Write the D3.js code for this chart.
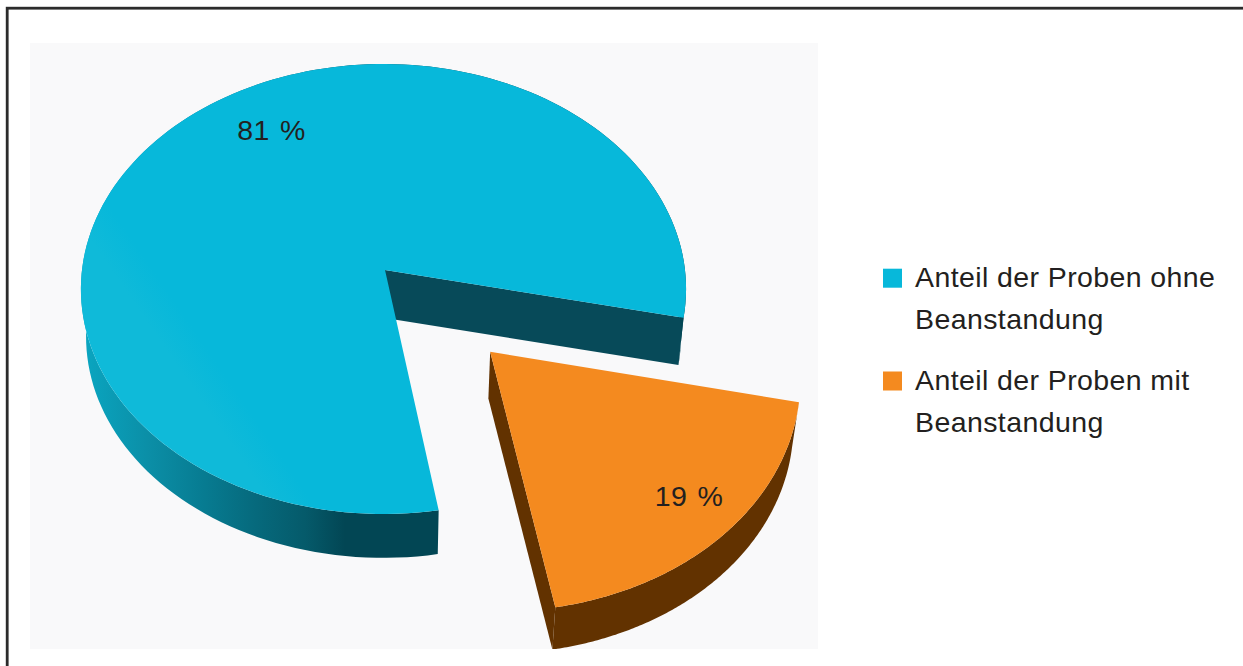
<!DOCTYPE html>
<html lang="de">
<head>
<meta charset="utf-8">
<title>Anteil der Proben</title>
<script src="https://cdn.jsdelivr.net/npm/d3@7"></script>
<style>
  html, body { margin: 0; padding: 0; background: #fff; overflow: hidden; }
  svg { display: block; }
  text { font-family: "Liberation Sans", Arial, sans-serif; fill: #231f20; letter-spacing: 0.4px; }
</style>
</head>
<body>
<script>
// Shares of samples, in percent
const categories = ["Anteil der Proben ohne Beanstandung", "Anteil der Proben mit Beanstandung"];
const shares = [81, 19];
const valueLabels = ["81 %", "19 %"];
const legendLines = [["Anteil der Proben ohne", "Beanstandung"], ["Anteil der Proben mit", "Beanstandung"]];
const topColors = ["#07b8da", "#f48a1f"];
const cutColors = ["#074a59", "#623200"];

const width = 1243, height = 666;
const panel = { x: 30, y: 43, w: 788, h: 606 };

// Perspective view of the tilted disc: plane coordinates (u, v), radius 1,
// are mapped so that the near edge is larger than the far edge.
const view = { x0: 385, y0: 270, a: 301.5, b: 223.4, k: 0.0844, m: 0.005 };
const floor = { y0: 318, scale: 0.983 };   // lower face of the extruded disc
const explode = 0.4915;                    // pull-out of the smaller slice, in radii

const project = ([u, v], lower) => {
  const w = 1 - view.k * v + view.m * u;
  const dx = view.a * u / w, dy = view.b * v / w;
  return lower
    ? [view.x0 + dx * floor.scale, floor.y0 + dy * floor.scale]
    : [view.x0 + dx, view.y0 + dy];
};

// d3.pie angles run clockwise from twelve o'clock
const deg = Math.PI / 180;
const startAngle = 170.6 * deg;
const arcs = d3.pie().sort(null).startAngle(startAngle).endAngle(startAngle + 2 * Math.PI)(shares);

const offsetOf = i => {
  if (i !== 1) return [0, 0];
  const mid = (arcs[i].startAngle + arcs[i].endAngle) / 2;
  return [explode * Math.sin(mid), -explode * Math.cos(mid)];
};
const polar = (angle, r, off) => [off[0] + r * Math.sin(angle), off[1] - r * Math.cos(angle)];
const rim = (arc, off) => d3.range(0, 1.0001, 1 / 160)
  .map(t => polar(arc.startAngle + t * (arc.endAngle - arc.startAngle), 1, off));

const line = d3.line();

const svg = d3.select("body").append("svg").attr("width", width).attr("height", height);
const defs = svg.append("defs");

defs.append("clipPath").attr("id", "panel-clip").append("rect")
  .attr("x", panel.x).attr("y", panel.y).attr("width", panel.w).attr("height", panel.h);

// Shading of the curved outer wall, dark towards the front
const wallX = d3.scaleLinear().domain([0, 1]).range([85, 345]);
const wallGradient = defs.append("linearGradient").attr("id", "wall-shade")
  .attr("gradientUnits", "userSpaceOnUse")
  .attr("x1", wallX(0)).attr("x2", wallX(1)).attr("y1", 0).attr("y2", 0);
[[0, "#0aa5c0"], [0.25, "#0b8ea6"], [0.45, "#077c92"], [0.65, "#066a7d"], [0.85, "#055a6a"], [1, "#024654"]]
  .forEach(([o, c]) => wallGradient.append("stop").attr("offset", o).attr("stop-color", c));

// Faint light area on the lower left of the large slice
const glow = defs.append("linearGradient").attr("id", "top-glow")
  .attr("gradientUnits", "userSpaceOnUse")
  .attr("x1", 130).attr("y1", 440).attr("x2", 225).attr("y2", 375);
glow.append("stop").attr("offset", 0).attr("stop-color", "#0fbad9");
glow.append("stop").attr("offset", 0.7).attr("stop-color", "#0fbad9");
glow.append("stop").attr("offset", 1).attr("stop-color", topColors[0]);

// Outer frame, running past the right edge of the page
svg.append("rect").attr("x", 7.2).attr("y", 8.2).attr("width", width + 20).attr("height", height + 20)
  .attr("fill", "none").attr("stroke", "#2b2b2b").attr("stroke-width", 2.8);

svg.append("rect").attr("x", panel.x).attr("y", panel.y).attr("width", panel.w).attr("height", panel.h)
  .attr("fill", "#f9f9fa");

const pieGroup = svg.append("g").attr("clip-path", "url(#panel-clip)");

arcs.forEach((arc, i) => {
  const off = offsetOf(i);
  const g = pieGroup.append("g").attr("class", "slice");
  const edge = rim(arc, off);
  const upper = edge.map(p => project(p, false));
  const lower = edge.map(p => project(p, true));
  const apexUp = project(off, false), apexLow = project(off, true);
  const last = edge.length - 1;

  // Flat cut wall at the clockwise end of the slice
  g.append("path")
    .attr("d", line([apexUp, upper[last], lower[last], apexLow]) + "Z")
    .attr("fill", cutColors[i]);

  // Curved outer wall
  g.append("path")
    .attr("d", line(upper.concat(lower.slice().reverse())) + "Z")
    .attr("fill", i === 0 ? "url(#wall-shade)" : cutColors[i]);

  // Top face
  g.append("path")
    .attr("d", line([apexUp, ...upper]) + "Z")
    .attr("fill", i === 0 ? "url(#top-glow)" : topColors[i]);
});

// Value labels sit on the top faces
const labelSpots = [{ turn: 329 * deg, r: 0.77 }, { turn: null, r: 0.832 }];
arcs.forEach((arc, i) => {
  const spot = labelSpots[i];
  const angle = spot.turn === null ? (arc.startAngle + arc.endAngle) / 2 - 2 * deg : spot.turn;
  const [x, y] = project(polar(angle, spot.r, offsetOf(i)), false);
  svg.append("text").attr("x", x).attr("y", y + 10)
    .attr("text-anchor", "middle").attr("font-size", 28.5).attr("word-spacing", 2)
    .text(valueLabels[i]);
});

// Legend
const legendY = d3.scalePoint().domain(categories).range([286.7, 389.5]);
const legend = svg.append("g").selectAll("g").data(categories).join("g")
  .attr("transform", d => `translate(0,${legendY(d)})`);
legend.append("rect").attr("x", 883).attr("y", -18).attr("width", 19).attr("height", 19)
  .attr("fill", (d, i) => topColors[i]);
legend.each(function (d, i) {
  d3.select(this).selectAll("text").data(legendLines[i]).join("text")
    .attr("x", 915).attr("y", (t, j) => j * 42.5)
    .attr("font-size", 28.5)
    .text(t => t);
});
</script>
</body>
</html>
